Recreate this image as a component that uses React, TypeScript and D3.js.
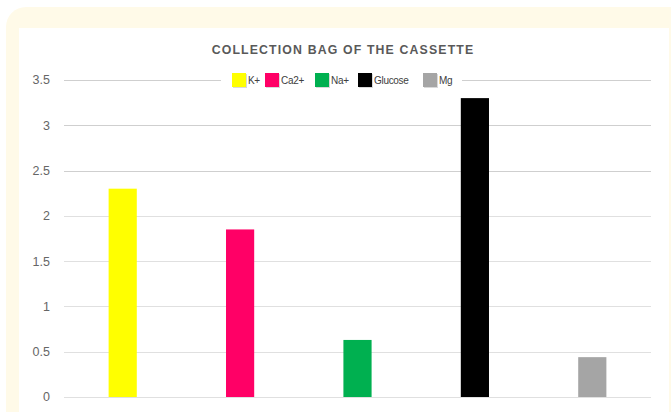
import React from "react";
import * as d3 from "d3";

const categories = ["K+", "Ca2+", "Na+", "Glucose", "Mg"];
const values = [2.3, 1.85, 0.63, 3.3, 0.44];
const colors = ["#FFFF00", "#FF0066", "#00B050", "#000000", "#A5A5A5"];
const yTicks = [0, 0.5, 1, 1.5, 2, 2.5, 3, 3.5];
const title = "COLLECTION BAG OF THE CASSETTE";

export default function App() {
  const W = 671, H = 412;
  const left = 64, right = 651, top = 80, bottom = 397;
  const x = d3.scaleBand<string>().domain(categories).range([left, right]).paddingInner(0.76).paddingOuter(0.38);
  const y = d3.scaleLinear().domain([0, 3.5]).range([bottom, top]);
  const font = "'Liberation Sans', Arial, sans-serif";

  const legendX = [232, 265, 315, 358, 423];

  return (
    <svg width={W} height={H} style={{ position: "fixed", left: 0, top: 0, display: "block" }}>
      <rect x={6} y={7} width={720} height={500} rx={20} fill="#FFFAE8" />
      <rect x={19} y={28} width={650} height={400} fill="#FFFFFF" />
      {yTicks.map((t) => (
        <g key={t}>
          <line x1={left} x2={right} y1={Math.round(y(t)) + 0.5} y2={Math.round(y(t)) + 0.5}
            stroke={t >= 2.5 ? "#CFCFCF" : "#E0E0E0"} strokeWidth={1} />
          <text x={50} y={y(t)} dy="0.35em" textAnchor="end" fontSize={12.5} fill="#666666" fontFamily={font}>
            {String(t)}
          </text>
        </g>
      ))}
      {categories.map((c, i) => (
        <rect key={c} x={x(c)} y={y(values[i])} width={x.bandwidth()} height={y(0) - y(values[i])} fill={colors[i]} />
      ))}
      <text x={343} y={54} textAnchor="middle" fontSize={12.3} fontWeight="bold" fill="#595959"
        letterSpacing={1.15} fontFamily={font}>{title}</text>
      <rect x={221} y={70} width={241} height={20} fill="#FFFFFF" />
      {categories.map((c, i) => (
        <g key={"l" + c}>
          <rect x={legendX[i] + 1} y={74} width={14} height={14} fill="#000" opacity={0.15} />
          <rect x={legendX[i]} y={73} width={14} height={14} fill={colors[i]} />
          <text x={legendX[i] + 16} y={80} dy="0.35em" fontSize={10} fill="#404040" fontFamily={font} letterSpacing={-0.3}>{c}</text>
        </g>
      ))}
    </svg>
  );
}
